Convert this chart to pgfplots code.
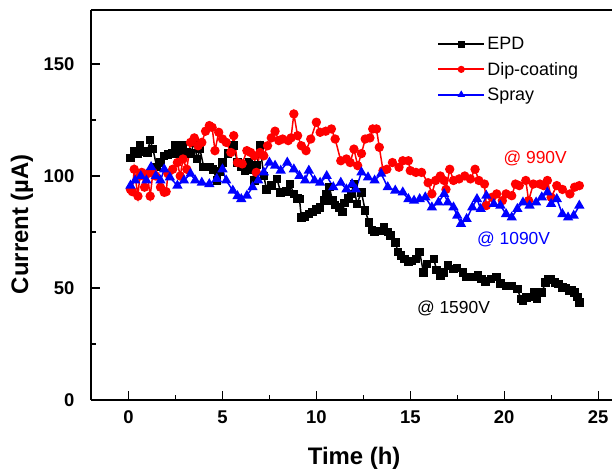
\documentclass[border=0pt]{standalone}
\usepackage{fontspec}
\setmainfont{Liberation Sans}
\usepackage{pgfplots}
\pgfplotsset{compat=1.18}

\begin{document}
\begin{tikzpicture}
\begin{axis}[
    at={(0,0)}, anchor=south west,
    scale only axis,
    width=521bp, height=390bp,
    xmin=-2, xmax=25.74,
    ymin=0, ymax=174.1,
    axis x line*=bottom,
    axis y line*=left,
    axis line style={line width=1.3bp},
    tick align=inside,
    xtick={0,5,...,25},
    ytick={0,50,100,150},
    minor tick num=1,
    major tick length=9bp,
    minor tick length=5bp,
    every tick/.style={black, line width=1.1bp},
    ticklabel style={font=\bfseries\fontsize{18.5}{18.5}\selectfont},
    /pgf/number format/assume math mode=true,
    xticklabel style={yshift=-7bp},
    yticklabel style={xshift=-13bp},
    xlabel={Time (h)},
    ylabel={Current (µA)},
    every axis x label/.style={at={(axis description cs:0.505,0)}, anchor=center, yshift=-58bp,
        font=\bfseries\fontsize{24}{24}\selectfont},
    every axis y label/.style={at={(axis description cs:-0.1324,0.451)}, anchor=center, rotate=90,
        font=\bfseries\fontsize{24}{24}\selectfont},
    clip=false,
    legend style={at={(axis description cs:0.664,0.935)}, anchor=north west,
        draw=none, fill=none, inner sep=0pt,
        font=\fontsize{18}{18}\selectfont, row sep=7bp,
        nodes={inner sep=2bp}},
    legend cell align=left,
    legend image code/.code={
        \draw[#1, line width=2.2bp] (0bp,0.25bp) -- (46bp,0.25bp);
        \draw[#1, mark size=2.8bp] plot coordinates {(23bp,0.25bp)};
    },
]
\addplot[black, line width=1.5bp, mark=square*, mark size=3.5bp] coordinates {
(0.1,108) (0.3,111) (0.5,110) (0.6,113.5) (0.8,111) (1.0,110.5) (1.15,116) (1.3,112)
(1.5,104) (1.7,106) (1.9,109) (2.1,109.5) (2.3,110) (2.5,113.5) (2.7,110) (2.9,113.5)
(3.1,110.5) (3.3,110) (3.5,115) (3.65,107.5) (3.8,112) (4.0,104) (4.3,104) (4.5,103)
(4.7,98) (4.85,102) (5.0,106) (5.3,110) (5.6,113.5) (5.8,106) (6.0,104) (6.2,102.5)
(6.4,106) (6.6,103) (6.7,98) (6.85,105) (7.0,113.5) (7.2,100) (7.35,94) (7.6,95.7)
(7.9,98.7) (8.1,92.7) (8.4,93) (8.6,96.4) (8.8,92) (9.0,90) (9.1,89.7) (9.2,81.5)
(9.4,82) (9.6,83) (9.8,84) (10.0,85) (10.2,86) (10.4,89) (10.55,92) (10.7,95)
(10.85,89) (11.0,87) (11.2,86) (11.4,84) (11.5,88) (11.7,90) (11.85,92) (12.0,96.4)
(12.15,87.5) (12.4,92.7) (12.6,84.5) (12.8,79.3) (12.95,76) (13.1,75) (13.35,75.5) (13.6,77)
(13.8,75) (13.95,73.4) (14.2,70.4) (14.35,66) (14.5,64.4) (14.7,63) (14.9,61.5) (15.1,62)
(15.3,63) (15.5,66) (15.7,57) (15.9,60.7) (16.25,63) (16.4,58) (16.6,55.5) (16.8,57)
(17.0,60) (17.3,58.5) (17.5,59) (17.8,57) (18.0,55) (18.3,54.8) (18.6,55.5) (18.8,54)
(19.0,53) (19.3,54) (19.6,54.8) (19.8,52) (20.1,51) (20.4,51) (20.7,49.5) (20.9,45)
(21.0,44.5) (21.2,45.8) (21.4,46) (21.6,48) (21.75,45) (22.0,48) (22.2,52.5) (22.35,53.8)
(22.5,54) (22.7,52.5) (22.9,51.8) (23.1,50.3) (23.3,50) (23.45,48.8) (23.6,49) (23.75,48)
(23.9,46) (24.0,43.6)
};
\addlegendentry{EPD}
\addplot[red, line width=1.5bp, mark=*, mark size=3.9bp] coordinates {
(0.1,94) (0.2,93) (0.3,103) (0.5,91) (0.6,100) (0.7,101.6) (0.85,95) (1.0,101)
(1.15,91) (1.3,101.6) (1.45,100) (1.7,95) (1.9,92.7) (2.0,93) (2.1,101) (2.35,103)
(2.6,106) (2.75,100) (2.9,107.6) (3.1,103) (3.3,115) (3.5,117) (3.7,113.5) (3.9,115)
(4.1,120) (4.3,122.5) (4.45,121.7) (4.6,111.3) (4.8,119.5) (5.0,116.5) (5.2,115) (5.45,110.5)
(5.6,118) (5.8,106) (6.05,105.4) (6.3,111.3) (6.5,110.5) (6.7,109) (6.8,101.6) (7.0,110.5)
(7.2,109) (7.4,113.5) (7.6,117) (7.8,120) (8.0,115.8) (8.2,116.5) (8.5,115.8) (8.65,117)
(8.8,127.7) (9.0,118) (9.2,113.5) (9.45,111.3) (9.7,116.5) (10.0,124) (10.2,119.5) (10.5,120)
(10.8,121) (11.0,116.5) (11.3,106.8) (11.6,107.6) (11.8,106) (12.0,112) (12.2,104.6) (12.4,110)
(12.6,116.5) (12.85,117) (13.0,121) (13.2,121) (13.35,112.8) (13.55,102.4) (13.75,103) (14.05,106)
(14.4,103.9) (14.6,106.8) (14.9,106.8) (15.0,102.4) (15.3,101.6) (15.6,101.6) (15.95,97) (16.15,92)
(16.35,98) (16.6,100) (16.8,98) (16.9,94) (17.1,103) (17.3,98) (17.6,98.7) (17.9,100)
(18.2,98.7) (18.45,103) (18.65,98) (18.95,96.4) (19.05,86.8) (19.35,90.5) (19.6,92) (19.9,89)
(20.1,92) (20.4,91.2) (20.6,96.4) (20.8,95.7) (21.15,98) (21.3,89) (21.55,96.4) (21.9,96.4)
(22.1,95.7) (22.3,98) (22.5,90.5) (22.8,95.7) (23.1,94) (23.5,92) (23.75,95) (24.0,95.7)
};
\addlegendentry{Dip-coating}
\addplot[blue, line width=1.5bp, mark=triangle*, mark size=4.5bp] coordinates {
(0.1,95.7) (0.35,98) (0.65,100) (0.95,98) (1.2,104) (1.45,100) (1.7,98) (1.9,103)
(2.2,99.4) (2.6,95.7) (2.95,98) (3.3,101) (3.55,98) (3.9,97) (4.3,96.4) (4.7,98.7)
(5.0,103) (5.2,98) (5.55,93.5) (5.8,91) (6.0,89.7) (6.3,91.2) (6.6,95) (6.9,98)
(7.2,101.6) (7.5,106) (7.8,104.6) (8.1,102.4) (8.45,106) (8.8,103) (9.1,100) (9.4,98)
(9.6,102.4) (9.9,98) (10.2,97) (10.55,100) (10.9,95) (11.3,97) (11.6,94) (11.9,96.4)
(12.1,94) (12.4,101.6) (12.75,99.4) (13.1,98) (13.45,101) (13.8,95) (14.2,93.5) (14.6,92.7)
(14.9,89.7) (15.2,89) (15.5,89.7) (15.8,90.5) (16.15,86) (16.5,88.2) (16.8,92) (17.0,88.2)
(17.3,86) (17.5,82.3) (17.7,78.6) (18.0,80.8) (18.3,86) (18.55,89.7) (18.75,85.3) (19.05,91.2)
(19.45,87.5) (19.8,86.8) (20.1,83) (20.4,81.5) (20.7,85.3) (21.0,88.2) (21.35,86.8) (21.7,88.2)
(22.0,90.5) (22.3,92.7) (22.5,87.5) (22.8,89.7) (23.1,83) (23.4,81.5) (23.7,82.3) (24.0,86.8)
};
\addlegendentry{Spray}
\draw[line width=1.3bp] (rel axis cs:0,1) -- (rel axis cs:1,1);
\node[text=red, font=\fontsize{17.5}{17.5}\selectfont] at (axis cs:21.65,108) {@ 990V};
\node[text=blue, font=\fontsize{17.5}{17.5}\selectfont] at (axis cs:20.5,71.9) {@ 1090V};
\node[text=black, font=\fontsize{17.5}{17.5}\selectfont] at (axis cs:17.3,41) {@ 1590V};
\end{axis}
\pgfresetboundingbox
\path[use as bounding box] (-91bp,-70bp) rectangle (521bp,400bp);
\end{tikzpicture}
\end{document}
